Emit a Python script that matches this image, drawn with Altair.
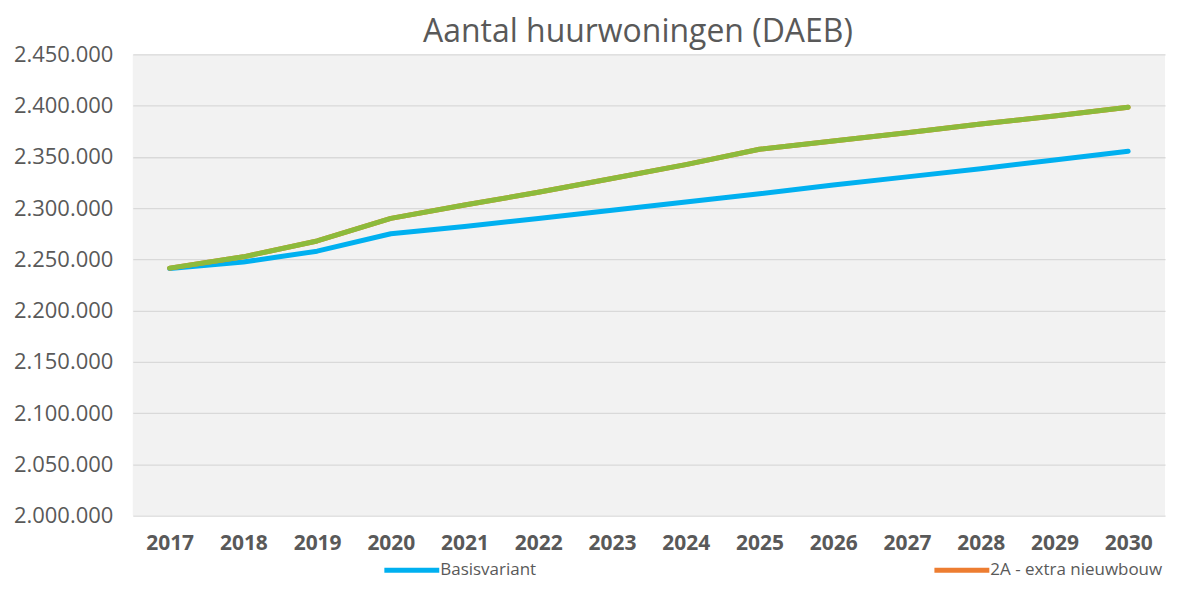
import altair as alt
import pandas as pd

years = [str(y) for y in range(2017, 2031)]
basis = [2241000, 2247500, 2258000, 2275000, 2282000, 2290000, 2298000,
         2306000, 2314000, 2322500, 2330500, 2338500, 2347000, 2355500]
extra = [2241500, 2252500, 2268000, 2290000, 2303000, 2315500, 2329000,
         2342500, 2357500, 2365500, 2373500, 2382000, 2390000, 2398500]
green = [2241500, 2252500, 2268000, 2290000, 2303000, 2315500, 2329000,
         2342500, 2357500, 2365500, 2373500, 2382000, 2390000, 2398500]

names = ["Basisvariant", "2A - extra nieuwbouw", "2B - variant"]
colors = ["#00b0f0", "#ed7d31", "#8cbb3c"]
y_ticks = list(range(2000000, 2450001, 50000))

rows = []
for n, vals in zip(names, [basis, extra, green]):
    for yr, v in zip(years, vals):
        rows.append({"jaar": yr, "waarde": v, "serie": n})
df = pd.DataFrame(rows)

FONT = "Open Sans"
GREY = "#595959"

color = alt.Color(
    "serie:N",
    scale=alt.Scale(domain=names, range=colors),
    legend=alt.Legend(
        title=None,
        orient="none",
        legendX=271,
        legendY=508,
        direction="horizontal",
        values=names[:2],
        symbolType="M-5,0H5",
        symbolSize=121,
        symbolStrokeWidth=5,
        labelFontSize=17,
        labelColor=GREY,
        labelFont=FONT,
        labelOffset=20,
        labelLimit=400,
        columnPadding=388,
    ),
)

x = alt.X(
    "jaar:O",
    sort=years,
    scale=alt.Scale(padding=0.5),
    axis=alt.Axis(title=None, labelAngle=0, labelFontSize=21, labelFontWeight="bold",
                  labelColor=GREY, labelFont=FONT, domain=False, ticks=False,
                  labelPadding=17, grid=False),
)
y = alt.Y(
    "waarde:Q",
    scale=alt.Scale(domain=[2000000, 2450000], nice=False, zero=False),
    axis=alt.Axis(title=None, values=y_ticks, labelFontSize=22, labelColor=GREY,
                  labelFont=FONT, domain=False, ticks=False, labelPadding=20,
                  gridColor="#d9d9d9", gridWidth=1.3,
                  labelExpr="replace(format(datum.value, ','), /,/g, '.')"),
)

base = alt.Chart(df).mark_line(strokeWidth=5, strokeCap="round", strokeJoin="round")

layer1 = base.encode(x=x, y=y, color=color).transform_filter(
    alt.FieldOneOfPredicate(field="serie", oneOf=names[:2]))
layer2 = base.encode(x=x, y=y, color=color).transform_filter(
    alt.FieldEqualPredicate(field="serie", equal=names[2]))

chart = alt.layer(layer1, layer2).properties(
    width=1034,
    height=462,
    title=alt.Title("Aantal huurwoningen (DAEB)", fontSize=32, font=FONT,
                    fontWeight="normal", color=GREY, anchor="middle", offset=-6, dx=-11),
    autosize=alt.AutoSizeParams(type="none"),
    padding={"left": 125, "top": 46, "right": 14, "bottom": 64},
).configure_view(fill="#f2f2f2", stroke=None)

chart.save("out.html", embed_options={"renderer": "svg", "actions": False})
